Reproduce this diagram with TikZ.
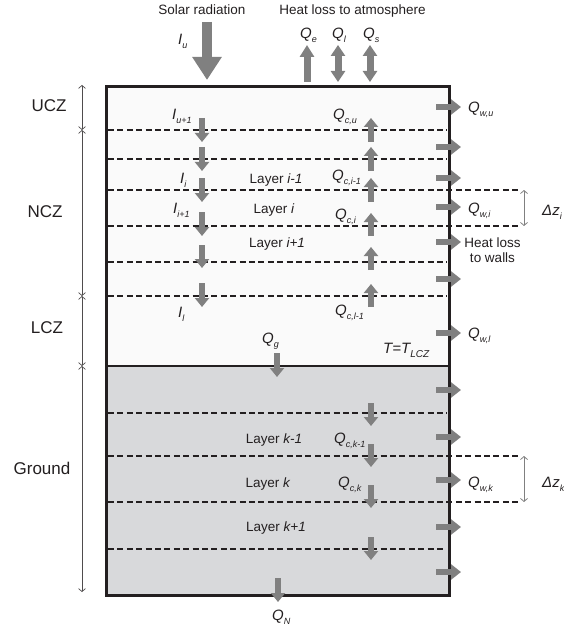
\documentclass[tikz,border=0pt]{standalone}
\usepackage{fontspec}
\setmainfont{Liberation Sans}
\usetikzlibrary{arrows.meta}
\definecolor{ag}{RGB}{128,128,128}
\definecolor{pond}{RGB}{250,250,250}
\definecolor{soil}{RGB}{216,217,219}
\definecolor{ink}{RGB}{35,31,32}
\newcommand{\sbx}[1]{\raisebox{-4pt}{\fontsize{9}{9}\selectfont\itshape #1}}
\newcommand{\QQ}[1]{{\itshape Q}\sbx{#1}}
\newcommand{\II}[1]{{\itshape I}\sbx{#1}}
\tikzset{
  fat/.style={draw=ag, line width=6pt, -{Triangle[width=14pt,length=9pt]}},
  fatwall/.style={draw=ag, line width=6.5pt, -{Triangle[width=15pt,length=10pt]}},
  fattop/.style={draw=ag, line width=7pt, -{Triangle[width=14pt,length=12pt]}},
  fatboth/.style={draw=ag, line width=7pt, {Triangle[width=14pt,length=11pt]}-{Triangle[width=14pt,length=11pt]}},
  lbl/.style={anchor=base west, inner sep=0pt, font=\fontsize{15}{15}\selectfont, text=ink},
  lay/.style={anchor=base, inner sep=0pt, font=\fontsize{13.5}{15}\selectfont, text=ink},
  zone/.style={anchor=base, inner sep=0pt, font=\fontsize{17}{17}\selectfont, text=ink},
  dsh/.style={draw=ink, line width=2.6pt, dash pattern=on 6pt off 3.4pt},
  dimline/.style={draw=ag, line width=0.8pt, {Straight Barb[length=3pt,width=7pt]}-{Straight Barb[length=3pt,width=7pt]}},
  zoneline/.style={draw=ink!80, line width=0.7pt, {Straight Barb[length=3pt,width=7pt]}-{Straight Barb[length=3pt,width=7pt]}}
}
\begin{document}
\begin{tikzpicture}[x=1pt,y=-1pt]
\useasboundingbox (0,0) rectangle (564,631);
% fills
\fill[pond] (106,87) rectangle (449,366);
\fill[soil] (106,366) rectangle (449,595);
% dashed layer lines
\foreach \yy in {130,159,262,296,413} \draw[dsh] (108,\yy) -- (447,\yy);
\foreach \yy in {190,226,456,502} \draw[dsh] (108,\yy) -- (518,\yy);
\draw[dsh] (108,549) -- (444,549);
% box
\draw[ink, line width=2.5pt] (106,366) -- (449,366);
\draw[ink, line width=3pt] (106,87) rectangle (449,595);
% top arrows
\draw[draw=ag, line width=10pt, -{Triangle[width=28pt,length=23pt]}] (207,22) -- (207,80);
\draw[fattop] (307,82) -- (307,45);
\draw[fatboth] (338,45) -- (338,82);
\draw[fatboth] (370,45) -- (370,82);
% radiation arrows
\foreach \a/\b in {118/142,147/171,178/202,212/236,245/268,283/307} \draw[fat] (202,\a) -- (202,\b);
% convection arrows (up)
\foreach \a/\b in {142/118,171/147,202/178,236/213,270/247,307/284} \draw[fat] (371,\a) -- (371,\b);
% ground conduction
\foreach \a/\b in {403/426,444/467,485/508,537/560} \draw[fat] (371,\a) -- (371,\b);
\draw[fat] (277,353) -- (277,377);
\draw[fat] (278,578) -- (278,602);
% wall losses
\foreach \yy in {107,147,178,207,242,279,333,390,437,480,527,572} \draw[fatwall] (436,\yy) -- (461,\yy);
% zone dimension line
\draw[zoneline] (82,85) -- (82,130);
\draw[zoneline] (82,130) -- (82,296);
\draw[zoneline] (82,296) -- (82,366);
\draw[zoneline] (82,366) -- (82,592);
\draw[dimline] (524,190) -- (524,226);
\draw[dimline] (524,456) -- (524,502);
% texts
\node[lay] (sr) at (202,15) {Solar radiation};
\node[lay] (hla) at (352.5,15) {Heat loss to atmosphere};
\node[lbl] (iu) at (178,45) {\II{u}};
\node[lbl] (qe) at (300,38.5) {\QQ{e}};
\node[lbl] (ql) at (332,38.5) {\QQ{l}};
\node[lbl] (qs) at (363,38.5) {\QQ{s}};
\node[zone] (ucz) at (49,112) {UCZ};
\node[zone] (ncz) at (45,217) {NCZ};
\node[zone] (lcz) at (47,333) {LCZ};
\node[zone] (gr) at (42,474) {Ground};
\node[lbl] (iu1) at (172,120) {\II{u+1}};
\node[lbl] (ii) at (180,183) {\II{i}};
\node[lbl] (ii1) at (173,213) {\II{i+1}};
\node[lbl] (il) at (178,317) {\II{l}};
\node[lbl] (qcu) at (333,120) {\QQ{c,u}};
\node[lbl] (qci1) at (332,180) {\QQ{c,i-1}};
\node[lbl] (qci) at (335,219) {\QQ{c,i}};
\node[lbl] (qcl1) at (335,315) {\QQ{c,l-1}};
\node[lay] (li1) at (276,183) {Layer \textit{i-1}};
\node[lay] (li) at (274,213) {Layer \textit{i}};
\node[lay] (lip) at (277,247) {Layer \textit{i+1}};
\node[lbl] (qwu) at (468,112.5) {\QQ{w,u}};
\node[lbl] (qwi) at (468,213) {\QQ{w,i}};
\node[lbl] (dzi) at (542,215) {{\itshape Δz}\sbx{i}};
\node[lay] (hlw) at (492.5,247) {Heat loss};
\node[lay] (hlw2) at (492.5,262) {to walls};
\node[lbl] (qg) at (262,343) {\QQ{g}};
\node[lbl] (qwl) at (468,338) {\QQ{w,l}};
\node[lbl] (tl) at (383,353) {{\itshape T=T}\raisebox{-4pt}{\fontsize{10}{10}\selectfont\itshape LCZ}};
\node[lay] (lk1) at (274,443) {Layer \textit{k-1}};
\node[lay] (lk) at (268,487) {Layer \textit{k}};
\node[lay] (lkp) at (276,531) {Layer \textit{k+1}};
\node[lbl] (qck1) at (334,443) {\QQ{c,k-1}};
\node[lbl] (qck) at (338,487) {\QQ{c,k}};
\node[lbl] (qwk) at (468,487) {\QQ{w,k}};
\node[lbl] (dzk) at (542,487) {{\itshape Δz}\sbx{k}};
\node[lbl] (qn) at (272,620) {\QQ{N}};
\end{tikzpicture}
\end{document}
